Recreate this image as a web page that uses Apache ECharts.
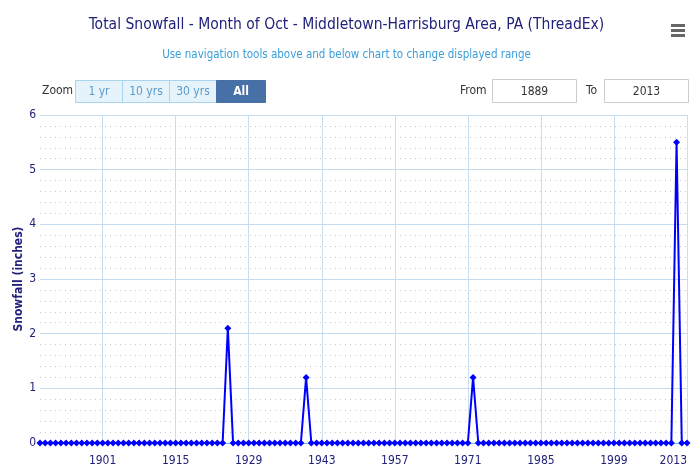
<!DOCTYPE html>
<html>
<head>
<meta charset="utf-8">
<script src="https://cdn.jsdelivr.net/npm/echarts@6/dist/echarts.min.js"></script>
<style>
  html, body { margin: 0; padding: 0; background: #fff; }
  #chart { width: 693px; height: 470px; }
</style>
</head>
<body>
<div id="chart"></div>
<script>
// October snowfall totals (inches), one value per year from 1889
const firstYear = 1889
const snowfall = [
  0,
  0, 0, 0, 0, 0, 0, 0, 0, 0, 0,
  0, 0, 0, 0, 0, 0, 0, 0, 0, 0,
  0, 0, 0, 0, 0, 0, 0, 0, 0, 0,
  0, 0, 0, 0, 0, 2.1, 0, 0, 0, 0,
  0, 0, 0, 0, 0, 0, 0, 0, 0, 0,
  1.2, 0, 0, 0, 0, 0, 0, 0, 0, 0,
  0, 0, 0, 0, 0, 0, 0, 0, 0, 0,
  0, 0, 0, 0, 0, 0, 0, 0, 0, 0,
  0, 0, 1.2, 0, 0, 0, 0, 0, 0, 0,
  0, 0, 0, 0, 0, 0, 0, 0, 0, 0,
  0, 0, 0, 0, 0, 0, 0, 0, 0, 0,
  0, 0, 0, 0, 0, 0, 0, 0, 0, 0,
  0, 5.5, 0, 0
]
const years = snowfall.map((v, i) => String(firstYear + i))
const yearTicks = ['1901', '1915', '1929', '1943', '1957', '1971', '1985', '1999', '2013']
const zoomButtons = ['1 yr', '10 yrs', '30 yrs', 'All']

const font = '"Liberation Sans Narrow", "DejaVu Sans Condensed", sans-serif'
const navy = '#22227a'

const chart = echarts.init(document.getElementById('chart'))

const isTick = (index) => yearTicks.indexOf(years[index]) !== -1

// range selector buttons
const buttonGraphics = zoomButtons.map((label, i) => {
  const active = label === 'All'
  const w = i === 3 ? 49 : 47
  return {
    type: 'group',
    left: 75 + i * 47,
    top: 80,
    children: [
      {
        type: 'rect',
        shape: { x: 0, y: 0, width: w, height: 22 },
        style: { fill: active ? '#4670a6' : '#e6f3fb', stroke: active ? '#4670a6' : '#a9d4ef', lineWidth: 1 }
      },
      {
        type: 'text',
        style: {
          x: w / 2, y: 11, text: label, align: 'center', verticalAlign: 'middle',
          fill: active ? '#fff' : '#5a9ccc', font: (active ? 'bold ' : '') + '12px ' + font
        }
      }
    ]
  }
})

const option = {
  animation: false,
  title: {
    text: 'Total Snowfall - Month of Oct - Middletown-Harrisburg Area, PA (ThreadEx)',
    subtext: 'Use navigation tools above and below chart to change displayed range',
    left: 'center',
    top: 12,
    itemGap: 16,
    textStyle: { color: navy, fontSize: 15.5, fontWeight: 'normal', fontFamily: font },
    subtextStyle: { color: '#3a9ed8', fontSize: 11.5, fontFamily: font }
  },
  graphic: [
    {
      type: 'group',
      left: 671,
      top: 24,
      children: [0, 5, 10].map(y => ({
        type: 'rect',
        shape: { x: 0, y: y, width: 14, height: 3 },
        style: { fill: '#666' }
      }))
    },
    {
      type: 'text',
      left: 42, top: 85,
      style: { text: 'Zoom', fill: '#333', font: '12px ' + font }
    },
    ...buttonGraphics,
    {
      type: 'text',
      left: 460, top: 85,
      style: { text: 'From', fill: '#333', font: '12px ' + font }
    },
    {
      type: 'group',
      left: 492, top: 79,
      children: [
        { type: 'rect', shape: { x: 0, y: 0, width: 84, height: 23 }, style: { fill: '#fff', stroke: '#ccc' } },
        { type: 'text', style: { x: 42, y: 12, text: '1889', align: 'center', verticalAlign: 'middle', fill: '#333', font: '12px ' + font } }
      ]
    },
    {
      type: 'text',
      left: 586, top: 85,
      style: { text: 'To', fill: '#333', font: '12px ' + font }
    },
    {
      type: 'group',
      left: 604, top: 79,
      children: [
        { type: 'rect', shape: { x: 0, y: 0, width: 84, height: 23 }, style: { fill: '#fff', stroke: '#ccc' } },
        { type: 'text', style: { x: 42, y: 12, text: '2013', align: 'center', verticalAlign: 'middle', fill: '#333', font: '12px ' + font } }
      ]
    }
  ],
  grid: { left: 40, right: 6, top: 115, bottom: 27, containLabel: false, outerBoundsMode: 'none' },
  xAxis: {
    type: 'category',
    data: years,
    boundaryGap: false,
    axisLine: { lineStyle: { color: '#5fc4ec', width: 1 } },
    axisTick: { show: false },
    axisLabel: {
      interval: isTick,
      color: navy,
      fontSize: 12,
      fontFamily: font,
      margin: 12,
      alignMaxLabel: 'right'
    },
    splitLine: {
      show: true,
      interval: isTick,
      lineStyle: { color: '#c7def1', width: 1 }
    }
  },
  yAxis: {
    type: 'value',
    min: 0,
    max: 6,
    interval: 1,
    name: 'Snowfall (inches)',
    nameLocation: 'middle',
    nameGap: 15,
    nameMoveOverlap: false,
    nameTextStyle: { color: navy, fontSize: 12, fontWeight: 'bold', fontFamily: font },
    axisLine: { show: false },
    axisTick: { show: false },
    axisLabel: { color: navy, fontSize: 12, fontFamily: font, margin: 4 },
    splitLine: { lineStyle: { color: '#c2dbf0', width: 1 } },
    minorTick: { show: false, splitNumber: 5 },
    minorSplitLine: { show: true, lineStyle: { color: '#c8c8c8', type: [1, 4], width: 1 } }
  },
  series: [
    {
      type: 'line',
      data: snowfall,
      symbol: 'diamond',
      symbolSize: 7,
      showAllSymbol: true,
      lineStyle: { color: '#0000ff', width: 2 },
      itemStyle: { color: '#0000ff' }
    }
  ]
}

chart.setOption(option)
</script>
</body>
</html>
